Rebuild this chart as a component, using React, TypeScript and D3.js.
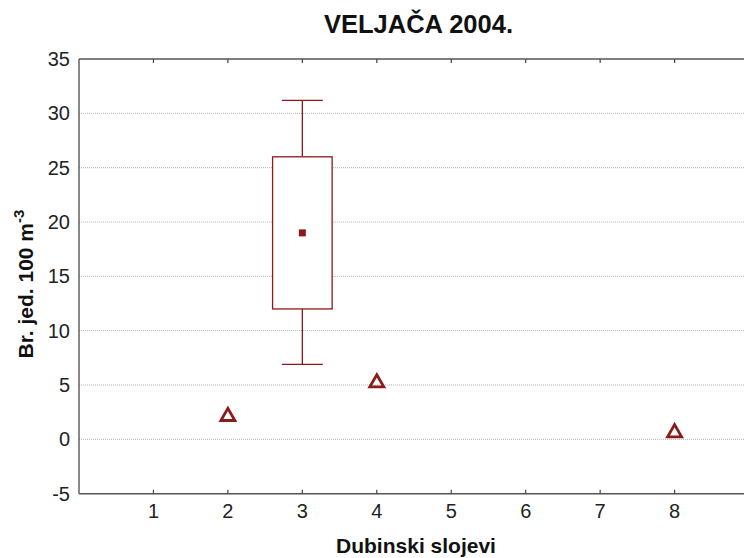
import React from "react";
import * as d3 from "d3";

const xTicks = [1, 2, 3, 4, 5, 6, 7, 8];
const yTicks = [-5, 0, 5, 10, 15, 20, 25, 30, 35];
// box plot for layer 3
const boxLayer = [3];
const boxMean = [19.0];
const boxQ1 = [12.0];
const boxQ3 = [26.0];
const boxMin = [6.9];
const boxMax = [31.2];
// single observations (triangles)
const pointLayers = [2, 4, 8];
const pointValues = [2.2, 5.3, 0.7];

const W = 744;
const H = 558;
const left = 79;
const top = 59;
const bottom = 493.7;
const red = "#8b1a1a";

export default function App() {
  const x = d3.scaleLinear().domain([0, 9]).range([left, left + 9 * 74.45]);
  const y = d3.scaleLinear().domain([-5, 35]).range([bottom, top]);
  const boxW = x(0.8) - x(0);
  const capW = x(0.55) - x(0);
  const tri = d3.symbol().type(d3.symbolTriangle).size(85)();

  return (
    <svg width={W} height={H} style={{ position: "absolute", left: 0, top: 0, background: "#fff" }}
      fontFamily="Liberation Sans, Arial, sans-serif">
      <rect x={0} y={0} width={W} height={H} fill="#fff" />
      <text x={418.5} y={33} textAnchor="middle" fontWeight="bold" fontSize={25.5} fill="#111">VELJAČA 2004.</text>
      {yTicks.filter(t => t !== -5 && t !== 35).map(t => (
        <line key={t} x1={left} x2={W} y1={y(t)} y2={y(t)} stroke="#b5b5b5" strokeWidth={1} strokeDasharray="1,1" />
      ))}
      {/* frame */}
      <line x1={left} x2={W} y1={top} y2={top} stroke="#555" strokeWidth={1.6} />
      <line x1={left} x2={W} y1={bottom} y2={bottom} stroke="#555" strokeWidth={1.6} />
      <line x1={left} x2={left} y1={top} y2={bottom} stroke="#555" strokeWidth={1.4} />
      {xTicks.map(t => (
        <g key={t}>
          <line x1={x(t)} x2={x(t)} y1={top} y2={top + 4} stroke="#444" strokeWidth={1.2} />
          <line x1={x(t)} x2={x(t)} y1={bottom} y2={bottom - 4} stroke="#444" strokeWidth={1.2} />
          <text x={x(t)} y={518} textAnchor="middle" fontSize={20} fill="#222">{t}</text>
        </g>
      ))}
      {yTicks.map(t => (
        <text key={t} x={70} y={y(t) + 7} textAnchor="end" fontSize={20} fill="#222">{t}</text>
      ))}
      {/* box */}
      {boxLayer.map((l, i) => (
        <g key={l} stroke={red} strokeWidth={1.3} fill="none">
          <line x1={x(l)} x2={x(l)} y1={y(boxMax[i])} y2={y(boxQ3[i])} />
          <line x1={x(l)} x2={x(l)} y1={y(boxQ1[i])} y2={y(boxMin[i])} />
          <line x1={x(l) - capW / 2} x2={x(l) + capW / 2} y1={y(boxMax[i])} y2={y(boxMax[i])} />
          <line x1={x(l) - capW / 2} x2={x(l) + capW / 2} y1={y(boxMin[i])} y2={y(boxMin[i])} />
          <rect x={x(l) - boxW / 2} y={y(boxQ3[i])} width={boxW} height={y(boxQ1[i]) - y(boxQ3[i])} fill="#fff" />
          <rect x={x(l) - 3.5} y={y(boxMean[i]) - 3.5} width={7} height={7} fill={red} stroke="none" />
        </g>
      ))}
      {pointLayers.map((l, i) => (
        <path key={l} d={tri} transform={`translate(${x(l)},${y(pointValues[i]) + 1})`} fill="none" stroke={red} strokeWidth={2.8} strokeLinejoin="miter" />
      ))}
      <text x={416} y={553} textAnchor="middle" fontWeight="bold" fontSize={21} fill="#111">Dubinski slojevi</text>
      <text transform="translate(33,284) rotate(-90)" textAnchor="middle" fontWeight="bold" fontSize={21} fill="#111">
        Br. jed. 100 m<tspan dy={-9} fontSize={15}>-3</tspan>
      </text>
    </svg>
  );
}
